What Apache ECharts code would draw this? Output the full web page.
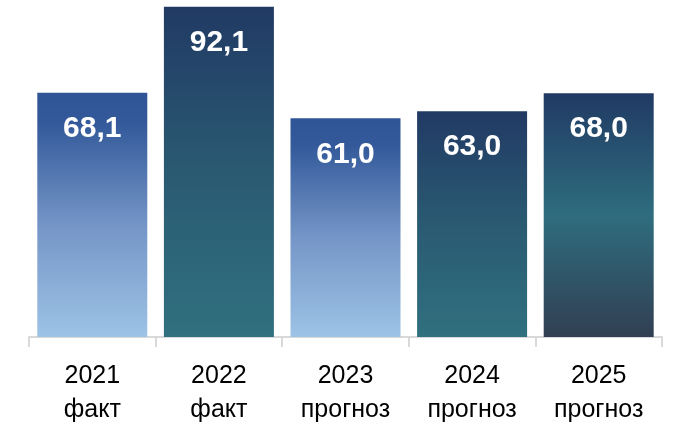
<!DOCTYPE html>
<html>
<head>
<meta charset="utf-8">
<script src="https://cdn.jsdelivr.net/npm/echarts@6/dist/echarts.min.js"></script>
<style>
html,body{margin:0;padding:0;background:#fff;}
#chart{width:674px;height:430px;}
</style>
</head>
<body>
<div id="chart"></div>
<script>
const categories = ['2021\nфакт', '2022\nфакт', '2023\nпрогноз', '2024\nпрогноз', '2025\nпрогноз'];
const values = [68.1, 92.1, 61.0, 63.0, 68.0];
const valueLabels = ['68,1', '92,1', '61,0', '63,0', '68,0'];

function grad(stops) {
  return new echarts.graphic.LinearGradient(0, 0, 0, 1, stops.map(s => ({offset: s[0], color: s[1]})));
}
const blueGrad = () => grad([[0, '#2f5597'], [0.12, '#33599a'], [0.55, '#7596c7'], [1, '#9dc3e6']]);
const tealGrad = () => grad([[0, '#213a64'], [0.5, '#2a5a72'], [1, '#30707f']]);
const mixGrad = () => grad([[0, '#213a64'], [0.5, '#2e6d7e'], [1, '#323f53']]);
const fills = [blueGrad(), tealGrad(), blueGrad(), tealGrad(), mixGrad()];

const FONT = '"Liberation Sans Narrow", "Arial Narrow", "Liberation Sans", Arial, sans-serif';

const chart = echarts.init(document.getElementById('chart'));
chart.setOption({
  animation: false,
  grid: {left: 29, right: 12, top: 0, bottom: 93},
  xAxis: {
    type: 'category',
    data: categories,
    axisLine: {lineStyle: {color: '#d9d9d9', width: 2}},
    axisTick: {show: true, interval: 0, length: 10, lineStyle: {color: '#d9d9d9', width: 2}},
    axisLabel: {
      interval: 0,
      color: '#000', fontFamily: FONT, fontSize: 25,
      lineHeight: 34, margin: 22
    }
  },
  yAxis: {type: 'value', min: 0, max: 94, show: false, splitLine: {show: false}},
  series: [{
    type: 'bar',
    barWidth: 110,
    data: values.map((v, i) => ({value: v, itemStyle: {color: fills[i]}})),
    label: {
      show: true, position: 'insideTop', distance: 21,
      color: '#fff', fontWeight: 'bold', fontSize: 30,
      fontFamily: FONT,
      formatter: p => valueLabels[p.dataIndex]
    }
  }]
});
</script>
</body>
</html>
